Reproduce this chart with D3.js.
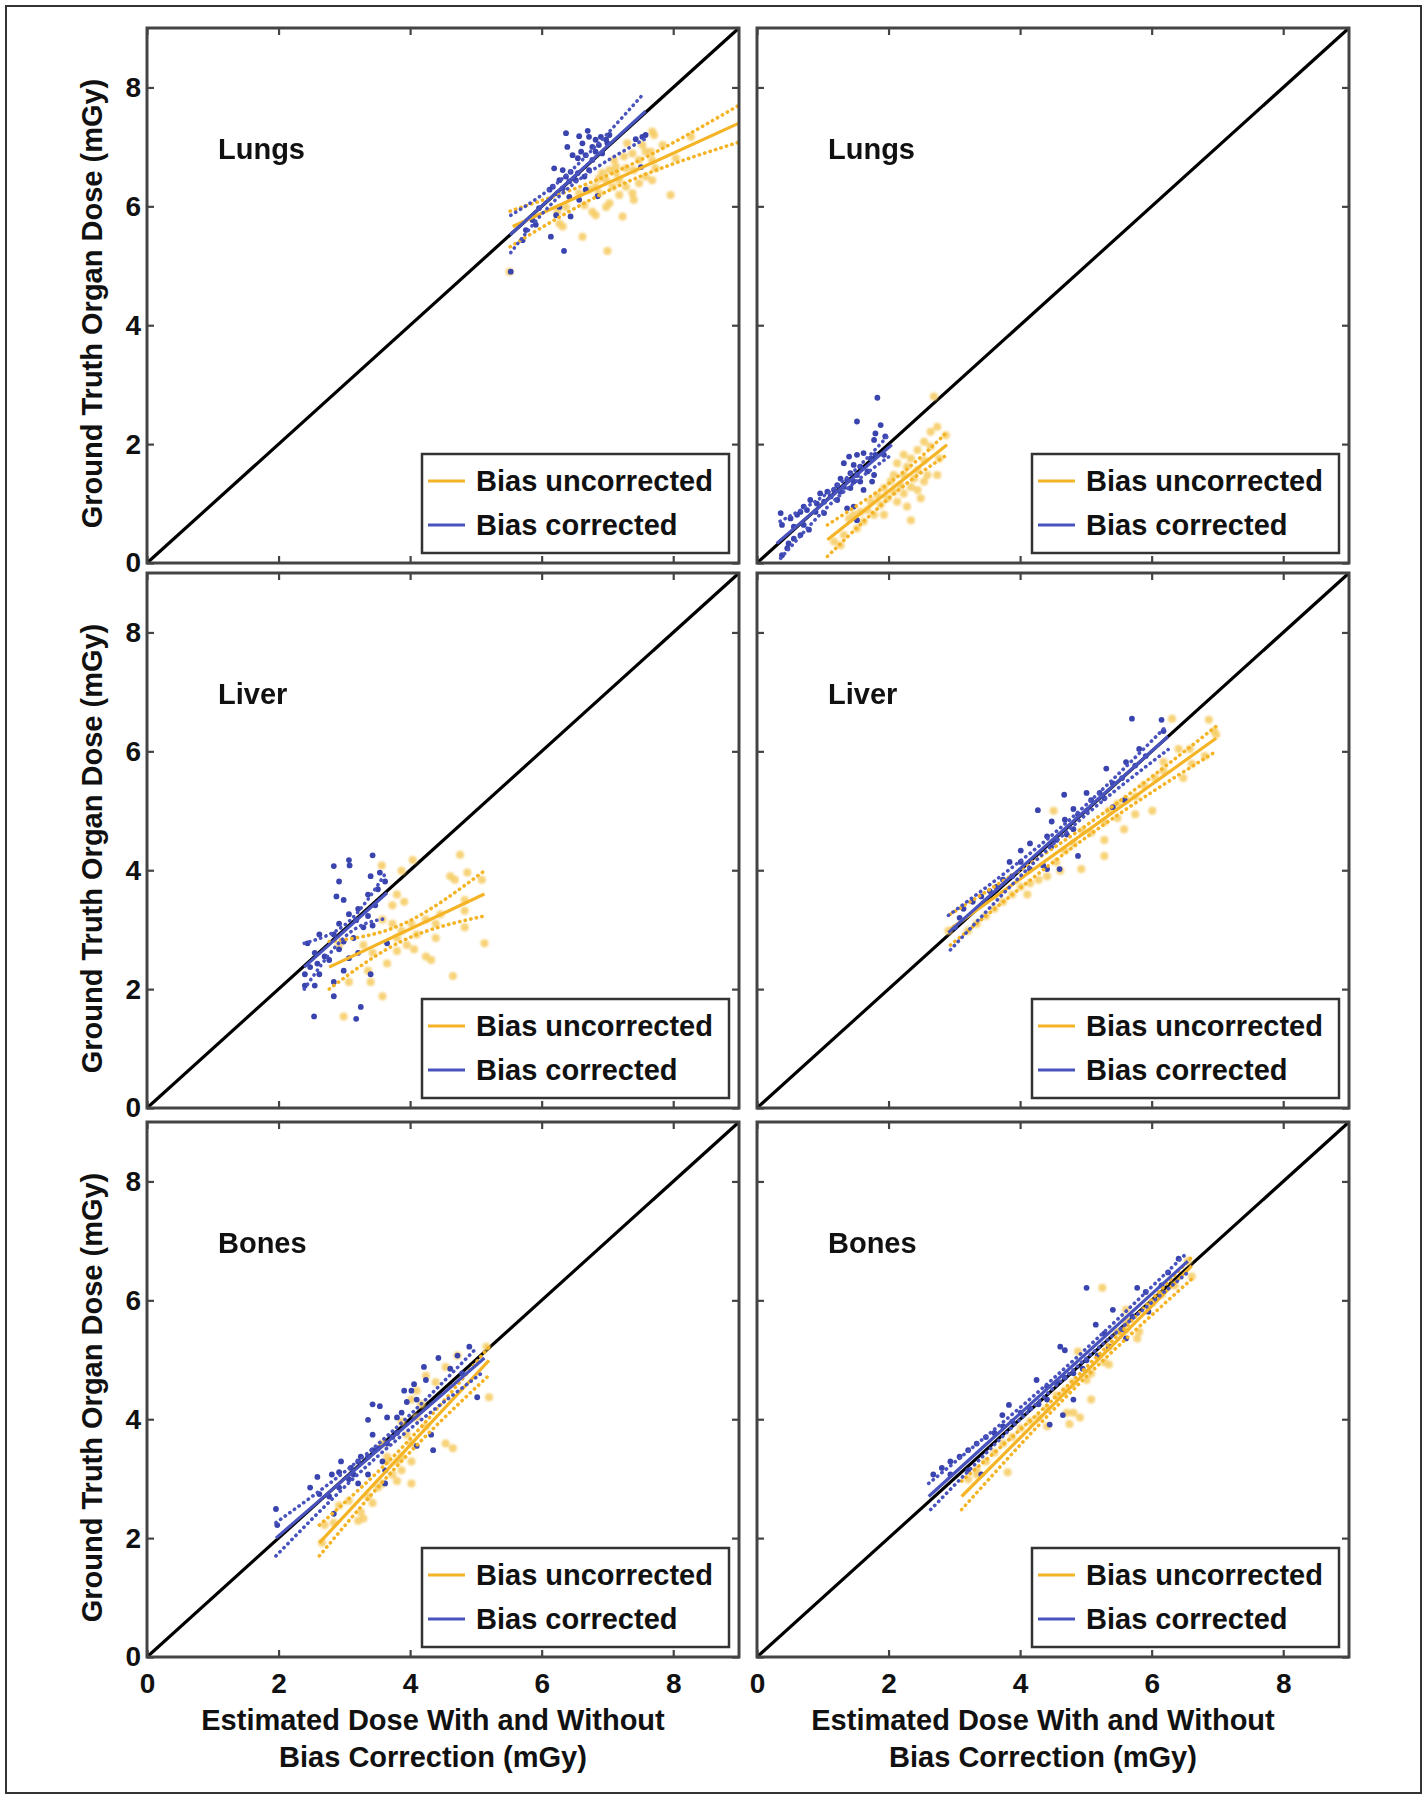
<!DOCTYPE html>
<html><head><meta charset="utf-8">
<script src="https://cdn.jsdelivr.net/npm/d3@7"></script>
<style>
body{margin:0;background:#fff}
text{font-family:"Liberation Sans",Arial,Helvetica,sans-serif;font-weight:bold;fill:#111}
</style>
</head><body>
<svg id="chart" width="1427" height="1800"></svg>
<script>
// ---------- shared labels / ticks ----------
const axisDomain = [0, 9];
const tickValues = [0, 2, 4, 6, 8];
const organNames = ["Lungs", "Lungs", "Liver", "Liver", "Bones", "Bones"];
const legendLabels = ["Bias uncorrected", "Bias corrected"];
const yTitle = "Ground Truth Organ Dose (mGy)";
const xTitleLines = ["Estimated Dose With and Without", "Bias Correction (mGy)"];

// ---------- Panel 1: Lungs (left) ----------
const p1Corr = [[6.37,7.23],[6.39,7.00],[6.57,7.18],[6.70,7.27],[6.72,7.17],[6.62,7.06],[6.47,6.86],[6.60,6.92],[6.67,6.86],[6.55,6.81],[6.77,7.00],[6.82,6.92],[6.87,7.03],[6.98,7.12],[7.03,7.20],[6.92,6.89],[6.77,6.78],[6.19,6.64],[6.32,6.61],[6.44,6.58],[6.55,6.56],[6.37,6.50],[6.27,6.44],[6.42,6.42],[6.17,6.33],[6.32,6.30],[6.24,6.22],[6.12,6.28],[6.52,6.44],[6.65,6.50],[6.72,6.61],[6.67,6.28],[6.57,6.11],[6.42,6.16],[6.27,5.99],[6.22,5.85],[5.96,5.97],[5.86,5.77],[5.91,5.69],[5.76,5.60],[5.71,5.43],[6.14,5.49],[6.34,5.25],[5.53,4.90],[6.44,5.83],[6.85,6.17],[7.51,6.66],[7.53,7.17],[7.58,7.20],[7.43,7.13],[6.90,7.17],[7.00,7.06],[6.82,7.12]];
const p1Unc = [[7.68,7.26],[7.71,7.20],[7.53,7.03],[7.58,6.92],[7.38,6.89],[7.25,6.84],[7.48,6.78],[7.66,6.92],[7.84,7.03],[7.68,6.78],[7.73,6.64],[7.13,6.67],[7.03,6.61],[6.92,6.56],[6.87,6.47],[6.82,6.33],[6.72,6.28],[6.98,6.44],[7.18,6.44],[7.08,6.33],[7.28,6.33],[7.38,6.22],[7.18,6.19],[7.03,6.05],[6.98,5.99],[6.77,5.91],[6.82,5.85],[7.23,5.83],[7.40,6.11],[7.68,6.44],[7.96,6.19],[8.27,7.17],[6.27,5.71],[6.32,5.66],[6.62,5.49],[7.00,5.25],[5.51,4.90],[6.24,5.91],[6.37,5.99],[6.57,6.22],[6.65,6.02],[7.48,6.39],[7.58,6.50],[7.40,6.61],[7.28,6.64],[7.13,6.56],[6.87,6.22],[8.04,6.81],[7.30,7.06],[7.10,6.78]];
const p1CorrFit = [[5.52,5.52],[7.58,7.60]];
const p1CorrHi = [[5.53,5.85],[6.40,6.55],[7.53,7.87]];
const p1CorrLo = [[5.53,5.22],[6.40,6.30],[7.58,7.14]];
const p1UncFit = [[5.56,5.66],[9.00,7.40]];
const p1UncHi = [[5.52,5.92],[7.20,6.62],[9.00,7.70]];
const p1UncLo = [[5.52,5.32],[7.20,6.36],[9.00,7.08]];

// ---------- Panel 2: Lungs (right) ----------
const p2Corr = [[1.83,2.78],[1.52,2.38],[1.88,2.32],[1.80,2.18],[1.95,2.13],[1.78,2.07],[1.40,1.79],[1.52,1.82],[1.62,1.85],[1.73,1.76],[1.80,1.82],[1.93,1.82],[1.32,1.68],[1.47,1.65],[1.57,1.62],[1.68,1.54],[1.78,1.48],[1.42,1.51],[1.52,1.48],[1.27,1.42],[1.37,1.40],[1.47,1.37],[1.57,1.37],[1.22,1.31],[1.32,1.28],[1.42,1.26],[1.17,1.23],[1.27,1.20],[1.07,1.20],[0.96,1.17],[1.12,1.12],[1.22,1.06],[1.02,1.03],[0.91,1.00],[0.81,1.06],[0.71,0.95],[0.66,0.86],[0.76,0.89],[0.89,0.86],[1.02,0.84],[0.61,0.81],[0.51,0.75],[0.36,0.84],[0.38,0.64],[0.56,0.61],[0.71,0.64],[0.79,0.56],[0.66,0.47],[0.56,0.41],[0.48,0.33],[0.46,0.25],[0.38,0.13],[1.37,0.92],[1.47,0.95],[1.52,0.72],[1.75,1.37],[1.62,1.23]];
const p2Unc = [[2.69,2.80],[2.74,2.29],[2.64,2.21],[2.87,2.15],[2.54,2.04],[2.64,1.96],[2.44,1.90],[2.23,1.82],[2.34,1.76],[2.54,1.73],[2.77,1.76],[2.13,1.68],[2.28,1.62],[2.44,1.56],[2.59,1.48],[2.74,1.48],[2.23,1.48],[2.08,1.48],[2.39,1.42],[2.54,1.37],[2.03,1.37],[2.18,1.31],[2.34,1.28],[1.93,1.26],[2.08,1.20],[2.23,1.17],[2.44,1.23],[1.83,1.14],[1.98,1.09],[2.13,1.03],[2.28,0.95],[1.73,1.03],[1.88,0.98],[1.68,0.89],[1.78,0.81],[1.93,0.81],[1.57,0.86],[1.47,0.81],[2.34,0.72],[2.49,1.09],[1.62,0.70],[1.40,0.75],[1.52,0.58],[1.32,0.47],[1.27,0.30],[1.17,0.36]];
const p2CorrFit = [[0.30,0.33],[2.05,1.99]];
const p2CorrHi = [[0.35,0.70],[1.20,1.28],[2.00,2.15]];
const p2CorrLo = [[0.36,0.08],[1.20,1.08],[2.02,1.80]];
const p2UncFit = [[1.07,0.39],[2.89,1.99]];
const p2UncHi = [[1.07,0.64],[2.10,1.42],[2.87,2.18]];
const p2UncLo = [[1.07,0.11],[2.10,1.18],[2.89,1.82]];

// ---------- Panel 3: Liver (left) ----------
const p3Corr = [[3.43,4.25],[3.07,4.17],[2.84,4.07],[3.08,4.08],[3.54,3.96],[3.62,3.81],[3.40,3.90],[3.51,3.68],[2.92,3.81],[2.99,3.50],[2.88,3.56],[3.21,3.35],[3.36,3.23],[3.07,3.26],[3.18,3.16],[2.92,3.10],[2.84,2.92],[3.29,3.04],[3.14,2.86],[2.99,2.80],[3.43,3.07],[3.65,2.77],[3.21,2.61],[2.62,2.92],[2.44,2.77],[2.55,2.61],[2.70,2.55],[2.92,2.67],[2.77,2.49],[2.48,2.37],[2.62,2.25],[2.84,2.12],[2.40,2.06],[2.55,2.06],[2.99,2.31],[3.40,2.25],[2.84,1.88],[2.54,1.54],[3.18,1.50],[3.25,1.70],[3.07,2.52],[2.59,2.43],[2.40,2.25],[3.36,3.59],[3.47,3.41]];
const p3Unc = [[3.57,4.08],[4.04,4.17],[3.87,3.99],[4.76,4.26],[4.87,3.96],[4.61,3.90],[4.68,3.84],[3.80,3.59],[3.91,3.47],[3.73,3.41],[3.58,3.17],[4.83,3.50],[4.46,3.26],[4.39,3.10],[4.83,3.04],[4.24,3.17],[4.02,3.10],[3.87,2.98],[3.80,2.86],[4.10,2.92],[3.95,2.74],[3.80,2.64],[4.06,2.67],[4.39,2.86],[5.13,2.77],[4.24,2.55],[4.32,2.49],[3.43,2.61],[3.29,2.74],[2.92,2.74],[3.36,2.31],[3.07,2.12],[3.40,2.12],[3.58,1.88],[2.99,1.54],[4.65,2.22],[4.83,3.32],[5.09,3.84],[3.65,2.43],[3.73,3.10]];
const p3CorrFit = [[2.39,2.37],[3.65,3.62]];
const p3CorrHi = [[2.39,2.77],[3.05,3.12],[3.65,3.99]];
const p3CorrLo = [[2.39,2.00],[3.05,2.92],[3.65,3.19]];
const p3UncFit = [[2.77,2.37],[5.13,3.60]];
const p3UncHi = [[2.77,2.80],[3.90,3.10],[5.13,3.99]];
const p3UncLo = [[2.77,2.00],[3.90,2.82],[5.13,3.23]];

// ---------- Panel 4: Liver (right) ----------
const p4Corr = [[5.70,6.55],[6.15,6.53],[6.18,6.34],[5.81,6.04],[5.91,5.92],[5.61,5.82],[5.31,5.71],[5.75,5.76],[5.55,5.55],[5.41,5.46],[5.01,5.30],[4.67,5.27],[5.21,5.30],[5.08,5.18],[5.28,5.21],[4.81,5.03],[4.27,5.01],[4.88,4.94],[5.01,5.00],[4.68,4.85],[4.48,4.82],[4.81,4.69],[4.71,4.60],[4.41,4.57],[4.55,4.51],[4.47,4.39],[4.15,4.45],[4.01,4.33],[3.84,4.14],[4.01,4.14],[4.15,4.02],[4.35,4.08],[4.41,4.02],[4.60,4.02],[4.88,4.24],[3.88,3.90],[3.74,3.84],[3.64,3.72],[3.54,3.65],[3.41,3.56],[3.28,3.47],[3.14,3.35],[3.08,3.20],[3.01,3.04],[5.59,5.18],[5.41,5.06]];
const p4Unc = [[6.31,6.55],[6.87,6.53],[6.95,6.34],[6.98,6.28],[6.41,6.04],[6.58,6.04],[6.18,5.82],[6.18,5.67],[6.61,5.79],[6.81,5.92],[6.05,5.55],[5.88,5.43],[5.75,5.24],[5.61,5.18],[5.48,5.12],[5.35,5.00],[5.48,4.88],[5.58,4.69],[5.28,4.81],[5.28,4.51],[5.28,4.24],[4.51,5.00],[4.95,4.66],[5.08,4.63],[4.81,4.45],[4.68,4.33],[4.55,4.14],[4.41,3.90],[4.93,4.02],[4.61,3.99],[4.28,3.84],[4.15,3.78],[4.01,3.72],[3.88,3.59],[4.11,3.59],[3.74,3.47],[3.61,3.35],[3.48,3.23],[3.34,3.10],[3.21,2.98],[2.91,2.98],[6.01,5.00],[5.75,4.94],[6.48,5.55]];
const p4CorrFit = [[2.91,2.95],[6.25,6.25]];
const p4CorrHi = [[2.91,3.24],[4.60,4.70],[6.22,6.42]];
const p4CorrLo = [[2.94,2.66],[4.60,4.54],[6.25,6.03]];
const p4UncFit = [[2.94,3.01],[6.98,6.22]];
const p4UncHi = [[2.94,3.26],[5.00,4.75],[6.98,6.42]];
const p4UncLo = [[2.94,2.74],[5.00,4.55],[6.95,5.98]];

// ---------- Panel 5: Bones (left) ----------
const p5Corr = [[1.96,2.49],[1.98,2.22],[2.48,2.85],[2.59,3.03],[2.62,2.74],[2.77,2.70],[2.92,2.85],[2.84,2.41],[3.07,2.99],[3.14,3.07],[3.21,2.92],[2.95,3.29],[3.21,3.29],[3.36,3.37],[3.51,3.51],[3.43,3.74],[3.65,3.59],[3.73,3.70],[3.80,3.77],[3.65,4.03],[3.87,4.11],[3.95,4.29],[4.10,4.33],[3.91,4.48],[4.02,4.48],[4.06,4.59],[4.24,4.66],[4.21,4.88],[4.43,5.03],[4.72,5.07],[4.90,5.22],[5.02,4.37],[4.79,4.77],[4.61,4.85],[4.32,3.74],[4.35,3.48],[4.10,3.55],[3.62,2.92],[3.58,3.29],[3.43,3.48],[3.25,3.37],[3.10,3.18],[2.92,3.11],[2.81,3.07],[3.36,3.07],[3.62,3.14],[3.80,4.03],[3.54,4.22],[3.43,4.25],[3.36,3.99]];
const p5Unc = [[4.54,4.88],[4.72,5.07],[5.16,5.22],[5.20,4.37],[4.65,3.51],[4.54,3.59],[4.24,3.88],[4.10,4.03],[4.17,4.25],[4.02,4.33],[4.10,4.48],[3.95,3.74],[4.02,3.59],[3.87,3.37],[3.80,3.29],[3.65,3.37],[3.73,3.07],[3.87,3.14],[4.02,2.92],[3.80,2.96],[3.58,2.92],[3.51,2.85],[3.36,2.70],[3.43,2.59],[3.25,2.44],[3.21,2.29],[3.29,2.33],[3.07,2.63],[2.92,2.55],[2.84,2.26],[2.70,2.22],[2.66,1.92],[4.24,4.73],[4.39,4.62],[4.02,3.29],[3.65,3.29],[3.87,3.96],[3.58,3.59]];
const p5CorrFit = [[1.96,2.00],[5.13,5.03]];
const p5CorrHi = [[1.96,2.26],[3.50,3.57],[5.02,5.21]];
const p5CorrLo = [[1.96,1.70],[3.50,3.37],[5.13,4.81]];
const p5UncFit = [[2.62,1.92],[5.20,4.99]];
const p5UncHi = [[2.62,2.22],[3.90,3.55],[5.20,5.22]];
const p5UncLo = [[2.62,1.70],[3.90,3.33],[5.20,4.74]];

// ---------- Panel 6: Bones (right) ----------
const p6Corr = [[5.01,6.21],[5.78,6.21],[5.91,6.14],[5.41,5.84],[5.15,5.59],[5.71,5.73],[5.95,5.81],[5.61,5.36],[5.35,5.22],[4.61,5.22],[4.68,5.16],[5.18,5.07],[5.01,4.99],[4.95,4.85],[4.81,4.77],[4.68,4.70],[4.55,4.62],[4.41,4.55],[4.25,4.66],[4.41,4.33],[4.28,4.25],[4.15,4.18],[4.01,4.11],[3.83,4.24],[3.73,4.07],[3.88,3.96],[3.74,3.88],[3.61,3.77],[3.48,3.70],[3.34,3.59],[3.21,3.48],[3.08,3.37],[2.94,3.29],[2.81,3.18],[2.68,3.07],[2.94,3.07],[3.21,3.14],[3.41,3.07],[4.81,4.33],[4.45,3.91],[4.65,4.07],[5.28,5.44],[5.55,5.51],[6.15,6.25],[6.41,6.70],[6.25,6.47]];
const p6Unc = [[5.25,6.21],[5.61,5.84],[5.78,5.36],[5.81,5.47],[5.48,5.47],[5.35,5.22],[5.28,4.96],[5.35,4.92],[5.08,4.77],[5.01,4.66],[4.81,4.62],[4.68,4.48],[4.55,4.40],[5.08,4.33],[4.81,4.11],[4.91,4.03],[4.75,3.92],[4.41,4.18],[4.28,4.03],[4.15,3.96],[4.01,3.85],[3.88,3.70],[3.74,3.59],[3.61,3.44],[3.48,3.29],[3.34,3.14],[3.21,2.99],[3.81,3.11],[3.34,3.07],[6.61,6.40],[6.55,6.66],[6.01,5.96],[6.15,6.10],[5.61,5.66],[4.88,5.14],[4.41,3.88],[4.71,4.11],[5.61,5.51],[6.35,6.25]];
const p6CorrFit = [[2.61,2.70],[6.55,6.66]];
const p6CorrHi = [[2.61,2.92],[4.50,4.68],[6.51,6.77]];
const p6CorrLo = [[2.64,2.48],[4.50,4.52],[6.55,6.47]];
const p6UncFit = [[3.11,2.70],[6.61,6.58]];
const p6UncHi = [[3.11,2.96],[4.80,4.65],[6.61,6.73]];
const p6UncLo = [[3.11,2.48],[4.80,4.49],[6.61,6.36]];

// ---------- assemble ----------
const panelSeries = [
  {corr:p1Corr, unc:p1Unc, cf:p1CorrFit, ch:p1CorrHi, cl:p1CorrLo, uf:p1UncFit, uh:p1UncHi, ul:p1UncLo},
  {corr:p2Corr, unc:p2Unc, cf:p2CorrFit, ch:p2CorrHi, cl:p2CorrLo, uf:p2UncFit, uh:p2UncHi, ul:p2UncLo},
  {corr:p3Corr, unc:p3Unc, cf:p3CorrFit, ch:p3CorrHi, cl:p3CorrLo, uf:p3UncFit, uh:p3UncHi, ul:p3UncLo},
  {corr:p4Corr, unc:p4Unc, cf:p4CorrFit, ch:p4CorrHi, cl:p4CorrLo, uf:p4UncFit, uh:p4UncHi, ul:p4UncLo},
  {corr:p5Corr, unc:p5Unc, cf:p5CorrFit, ch:p5CorrHi, cl:p5CorrLo, uf:p5UncFit, uh:p5UncHi, ul:p5UncLo},
  {corr:p6Corr, unc:p6Unc, cf:p6CorrFit, ch:p6CorrHi, cl:p6CorrLo, uf:p6UncFit, uh:p6UncHi, ul:p6UncLo}
];

const BLUE_LINE = "#4953BD", BLUE_PT = "#3A44AE";
const ORANGE_LINE = "#F4B426", ORANGE_PT = "#F6CD68";
const AX = "#444";

const colX = [147, 757], rowY = [28, 573, 1122];
const W = 592, H = 535;

const svg = d3.select("#chart");
svg.append("rect").attr("width",1427).attr("height",1800).attr("fill","#fff");
svg.append("rect").attr("x",6).attr("y",6).attr("width",1415).attr("height",1787)
  .attr("fill","none").attr("stroke","#333").attr("stroke-width",2);

const defs = svg.append("defs");
defs.append("filter").attr("id","soft").attr("x","-50%").attr("y","-50%").attr("width","200%").attr("height","200%")
  .append("feGaussianBlur").attr("stdDeviation",0.8);

const x = d3.scaleLinear().domain(axisDomain).range([0, W]);
const y = d3.scaleLinear().domain(axisDomain).range([H, 0]);
const line = d3.line().x(d => x(d[0])).y(d => y(d[1]));
const curve = d3.line().x(d => x(d[0])).y(d => y(d[1])).curve(d3.curveNatural);

panelSeries.forEach((s, i) => {
  const col = i % 2, row = Math.floor(i / 2);
  const g = svg.append("g").attr("transform", `translate(${colX[col]},${rowY[row]})`);

  // ticks on all four sides (inward)
  const mk = (axis, tr, labels, pad) => {
    const a = g.append("g").attr("transform", tr)
      .call(axis.tickValues(tickValues).tickSize(-7).tickPadding(pad)
        .tickFormat(labels ? d3.format("d") : () => ""));
    a.select(".domain").remove();
    a.selectAll(".tick line").attr("stroke", AX).attr("stroke-width", 2.2);
    a.selectAll(".tick text").style("font-size","28px").style("font-family",'"Liberation Sans",Arial,sans-serif').style("font-weight","bold").attr("fill","#111");
    return a;
  };
  mk(d3.axisBottom(x), `translate(0,${H})`, row === 2, 16);
  mk(d3.axisTop(x), `translate(0,0)`, false, 6);
  mk(d3.axisLeft(y), `translate(0,0)`, col === 0, 6);
  mk(d3.axisRight(y), `translate(${W},0)`, false, 6);

  // identity line
  g.append("path").datum([[0,0],[9,9]]).attr("d", line)
    .attr("stroke","#000").attr("stroke-width",3.2).attr("fill","none");

  // points
  g.append("g").attr("filter","url(#soft)").selectAll("circle").data(s.unc).join("circle")
    .attr("cx", d => x(d[0])).attr("cy", d => y(d[1])).attr("r", 4)
    .attr("fill", ORANGE_PT).attr("opacity", 0.9);
  g.append("g").selectAll("circle").data(s.corr).join("circle")
    .attr("cx", d => x(d[0])).attr("cy", d => y(d[1])).attr("r", 2.9)
    .attr("fill", BLUE_PT);

  // fits and confidence bands
  const band = (data, color) => g.append("path").datum(data).attr("d", curve)
    .attr("fill","none").attr("stroke", color).attr("stroke-width", 3.6)
    .attr("stroke-linecap","round").attr("stroke-dasharray","0.3 5.4");
  band(s.uh, ORANGE_LINE); band(s.ul, ORANGE_LINE);
  g.append("path").datum(s.uf).attr("d", line).attr("fill","none").attr("stroke", ORANGE_LINE).attr("stroke-width",3.2);
  band(s.ch, BLUE_LINE); band(s.cl, BLUE_LINE);
  g.append("path").datum(s.cf).attr("d", line).attr("fill","none").attr("stroke", BLUE_LINE).attr("stroke-width",3.2);

  // frame
  g.append("rect").attr("width", W).attr("height", H).attr("fill","none")
    .attr("stroke", AX).attr("stroke-width", 3);

  // organ label
  g.append("text").attr("x", 71).attr("y", 131).style("font-size","29px").text(organNames[i]);

  // legend
  const lw = 307, lh = 99;
  const lg = g.append("g").attr("transform", `translate(${W - 10 - lw},${H - 10 - lh})`);
  lg.append("rect").attr("width", lw).attr("height", lh).attr("fill","#fff")
    .attr("stroke", "#333").attr("stroke-width", 2.5);
  [[legendLabels[0], ORANGE_LINE, 27], [legendLabels[1], BLUE_LINE, 71]].forEach(([t, c, cy]) => {
    lg.append("line").attr("x1", 6).attr("x2", 43).attr("y1", cy).attr("y2", cy)
      .attr("stroke", c).attr("stroke-width", 3.2);
    lg.append("text").attr("x", 54).attr("y", cy + 10).style("font-size","29px").text(t);
  });

  // axis titles
  if (col === 0) {
    g.append("text").attr("transform", `translate(${102 - colX[0]},${H/2 + 8}) rotate(-90)`)
      .attr("text-anchor","middle").style("font-size","29px").text(yTitle);
  }
  if (row === 2) {
    xTitleLines.forEach((t, k) => {
      g.append("text").attr("x", W/2 - 10).attr("y", H + 73 + k*37)
        .attr("text-anchor","middle").style("font-size","29px").text(t);
    });
  }
});
</script>
</body></html>
